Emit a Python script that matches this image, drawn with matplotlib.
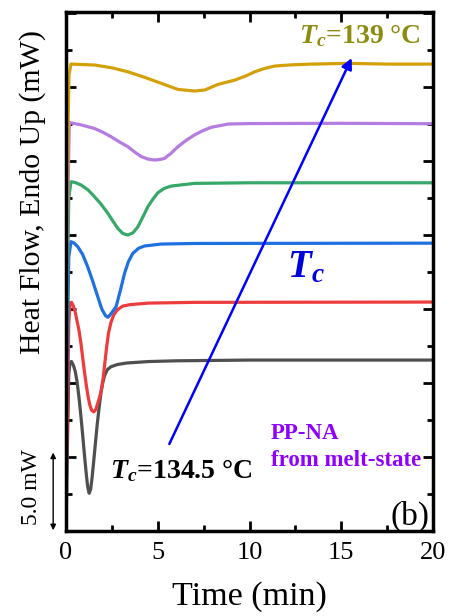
import matplotlib
matplotlib.use("Agg")
import matplotlib.pyplot as plt
from matplotlib.ticker import MultipleLocator

plt.rcParams['font.family'] = ['Liberation Serif', 'DejaVu Serif']
plt.rcParams['mathtext.fontset'] = 'custom'
plt.rcParams['mathtext.rm'] = 'Liberation Serif'
plt.rcParams['mathtext.it'] = 'Liberation Serif:italic'
plt.rcParams['mathtext.bf'] = 'Liberation Serif:bold'
plt.rcParams['mathtext.bfit'] = 'Liberation Serif:bold:italic'

# DSC isothermal crystallization curves, offset (mW), Tc 134.5 -> 139 C
t_gray = [0, 0.08, 0.15, 0.22, 0.3, 0.4, 0.5, 0.6, 0.7, 0.8, 0.9, 1.0, 1.1, 1.18, 1.26,
          1.34, 1.42, 1.5, 1.6, 1.7, 1.8, 1.9, 2.0, 2.1, 2.25, 2.45, 2.8, 3.3, 4.5, 6, 10, 20]
y_gray = [0.0, 6.0, 10.6, 11.4, 11.45, 11.2, 10.8, 10.1, 9.1, 7.9, 6.6, 5.2, 3.9, 3.0, 2.55,
          2.8, 3.6, 4.6, 5.9, 7.2, 8.3, 9.3, 10.0, 10.5, 10.9, 11.1, 11.25, 11.35, 11.45, 11.5, 11.55, 11.55]

t_red = [0, 0.08, 0.15, 0.22, 0.3, 0.4, 0.5, 0.6, 0.7, 0.8, 0.9, 1.0, 1.1, 1.2, 1.3, 1.4, 1.52,
         1.62, 1.72, 1.82, 1.92, 2.02, 2.12, 2.22, 2.32, 2.45, 2.6, 2.8, 3.1, 3.5, 4.5, 7, 20]
y_red = [2.1, 8.0, 14.0, 15.4, 15.45, 15.2, 14.8, 14.2, 13.6, 12.8, 11.8, 10.8, 9.9, 9.1, 8.5, 8.15, 8.05,
         8.2, 8.6, 9.0, 9.5, 10.3, 11.4, 12.5, 13.4, 14.1, 14.6, 14.95, 15.2, 15.3, 15.4, 15.45, 15.47]

t_blue = [0, 0.08, 0.15, 0.27, 0.45, 0.64, 0.9, 1.18, 1.45, 1.73, 1.95, 2.15, 2.28, 2.4, 2.55,
          2.73, 2.95, 3.19, 3.4, 3.64, 3.95, 4.28, 5.19, 7, 20]
y_blue = [6.15, 13.0, 18.5, 19.55, 19.45, 19.21, 18.7, 17.86, 16.9, 15.83, 15.0, 14.55, 14.44, 14.6, 14.85,
          15.16, 16.2, 17.41, 18.2, 18.76, 19.1, 19.26, 19.39, 19.43, 19.45]

t_green = [0, 0.08, 0.15, 0.27, 0.5, 0.82, 1.2, 1.55, 1.9, 2.28, 2.55, 2.82, 3.1, 3.37,
           3.65, 3.92, 4.2, 4.46, 4.75, 5.01, 5.35, 5.74, 7.01, 10, 20]
y_green = [10.2, 17.0, 22.5, 23.6, 23.55, 23.38, 23.05, 22.59, 22.1, 21.47, 20.95, 20.45, 20.1, 20.0,
           20.15, 20.56, 21.25, 21.91, 22.45, 22.86, 23.15, 23.31, 23.49, 23.53, 23.53]

t_purple = [0, 0.08, 0.18, 0.8, 1.55, 2.0, 2.46, 2.9, 3.37, 3.75, 4.1, 4.5, 4.83, 5.1, 5.37,
            5.7, 6.1, 6.55, 7.0, 7.45, 7.92, 8.83, 10, 15, 20]
y_purple = [14.3, 21.0, 27.6, 27.45, 27.2, 26.95, 26.64, 26.3, 25.97, 25.6, 25.3, 25.12, 25.07, 25.1, 25.18,
            25.5, 25.97, 26.4, 26.76, 27.05, 27.28, 27.5, 27.53, 27.55, 27.52]

t_gold = [0, 0.08, 0.16, 0.27, 1.55, 2.5, 3.37, 4.3, 5.19, 6.1, 7.01, 7.56, 8.29, 9.2, 9.8,
          10.29, 10.8, 11.38, 12.3, 13.39, 15.4, 17.5, 20]
y_gold = [17.6, 24.5, 30.8, 31.55, 31.49, 31.3, 31.03, 30.65, 30.25, 29.84, 29.73, 29.8, 30.18, 30.47, 30.75,
          31.03, 31.25, 31.42, 31.5, 31.55, 31.6, 31.55, 31.55]

curves = [
    (t_gray, y_gray, '#4f4f4f'),
    (t_red, y_red, '#ee3c3c'),
    (t_blue, y_blue, '#1f70e0'),
    (t_green, y_green, '#35a86a'),
    (t_purple, y_purple, '#b47be0'),
    (t_gold, y_gold, '#d4a00a'),
]

fig = plt.figure(figsize=(4.5, 6.16), dpi=100)
ax = fig.add_axes([0.1467, 0.138, 0.8155, 0.8425])

for t, y, c in curves:
    ax.plot(t, y, color=c, lw=2.3, solid_joinstyle='round', solid_capstyle='round')

ax.set_xlim(0, 20)
ax.set_ylim(0, 35.07)
ax.xaxis.set_major_locator(MultipleLocator(5))
ax.xaxis.set_minor_locator(MultipleLocator(2.5))
ax.yaxis.set_major_locator(MultipleLocator(5))
ax.yaxis.set_minor_locator(MultipleLocator(2.5))
ax.tick_params(which='both', direction='in', top=True, right=True, width=2)
ax.tick_params(which='major', length=7, labelsize=19, pad=8)
ax.tick_params(which='minor', length=4)
ax.tick_params(axis='y', labelleft=False)
for s in ax.spines.values():
    s.set_linewidth(2.5)

ax.set_xlabel('Time (min)', fontsize=24.5, labelpad=12)
ax.set_ylabel('Heat Flow, Endo Up (mW)', fontsize=21.5, labelpad=11, y=0.653)

# arrow showing increasing Tc
ax.annotate('', xy=(15.57, 31.96), xytext=(5.63, 5.88),
            arrowprops=dict(arrowstyle='-|>', color='#0000ff', lw=1.8, mutation_scale=16,
                            shrinkA=0, shrinkB=0))

ax.text(16.0, 33.5, r'$\mathbfit{T}_\mathbfit{c}$=139 °C', color='#8c8c10', fontsize=20,
        fontweight='bold', ha='center', va='center')
ax.text(6.3, 4.1, r'$\mathbfit{T}_\mathbfit{c}$=134.5 °C', color='black', fontsize=20,
        fontweight='bold', ha='center', va='center')
ax.text(13.06, 17.8, r'$\mathbfit{T}_\mathbfit{c}$', color='#0000dd', fontsize=28,
        fontweight='bold', ha='center', va='center')
ax.text(11.15, 5.68, 'PP-NA\nfrom melt-state', color='#8f00ff', fontsize=16.5,
        fontweight='bold', ha='left', va='center', linespacing=1.4)
ax.text(19.8, 1.0, '(b)', fontsize=24, ha='right', va='center')

# 5.0 mW scale bar
ax.annotate('', xy=(-0.035, 5.3), xytext=(-0.035, 0.05),
            xycoords=('axes fraction', 'data'), textcoords=('axes fraction', 'data'),
            arrowprops=dict(arrowstyle='<|-|>', color='black', lw=1.0, mutation_scale=8,
                            shrinkA=0, shrinkB=0), annotation_clip=False)
ax.text(-0.093, 2.95, '5.0 mW', fontsize=17, rotation=90, ha='center', va='center',
        transform=ax.get_yaxis_transform())

fig.savefig('out.png', dpi=100)
